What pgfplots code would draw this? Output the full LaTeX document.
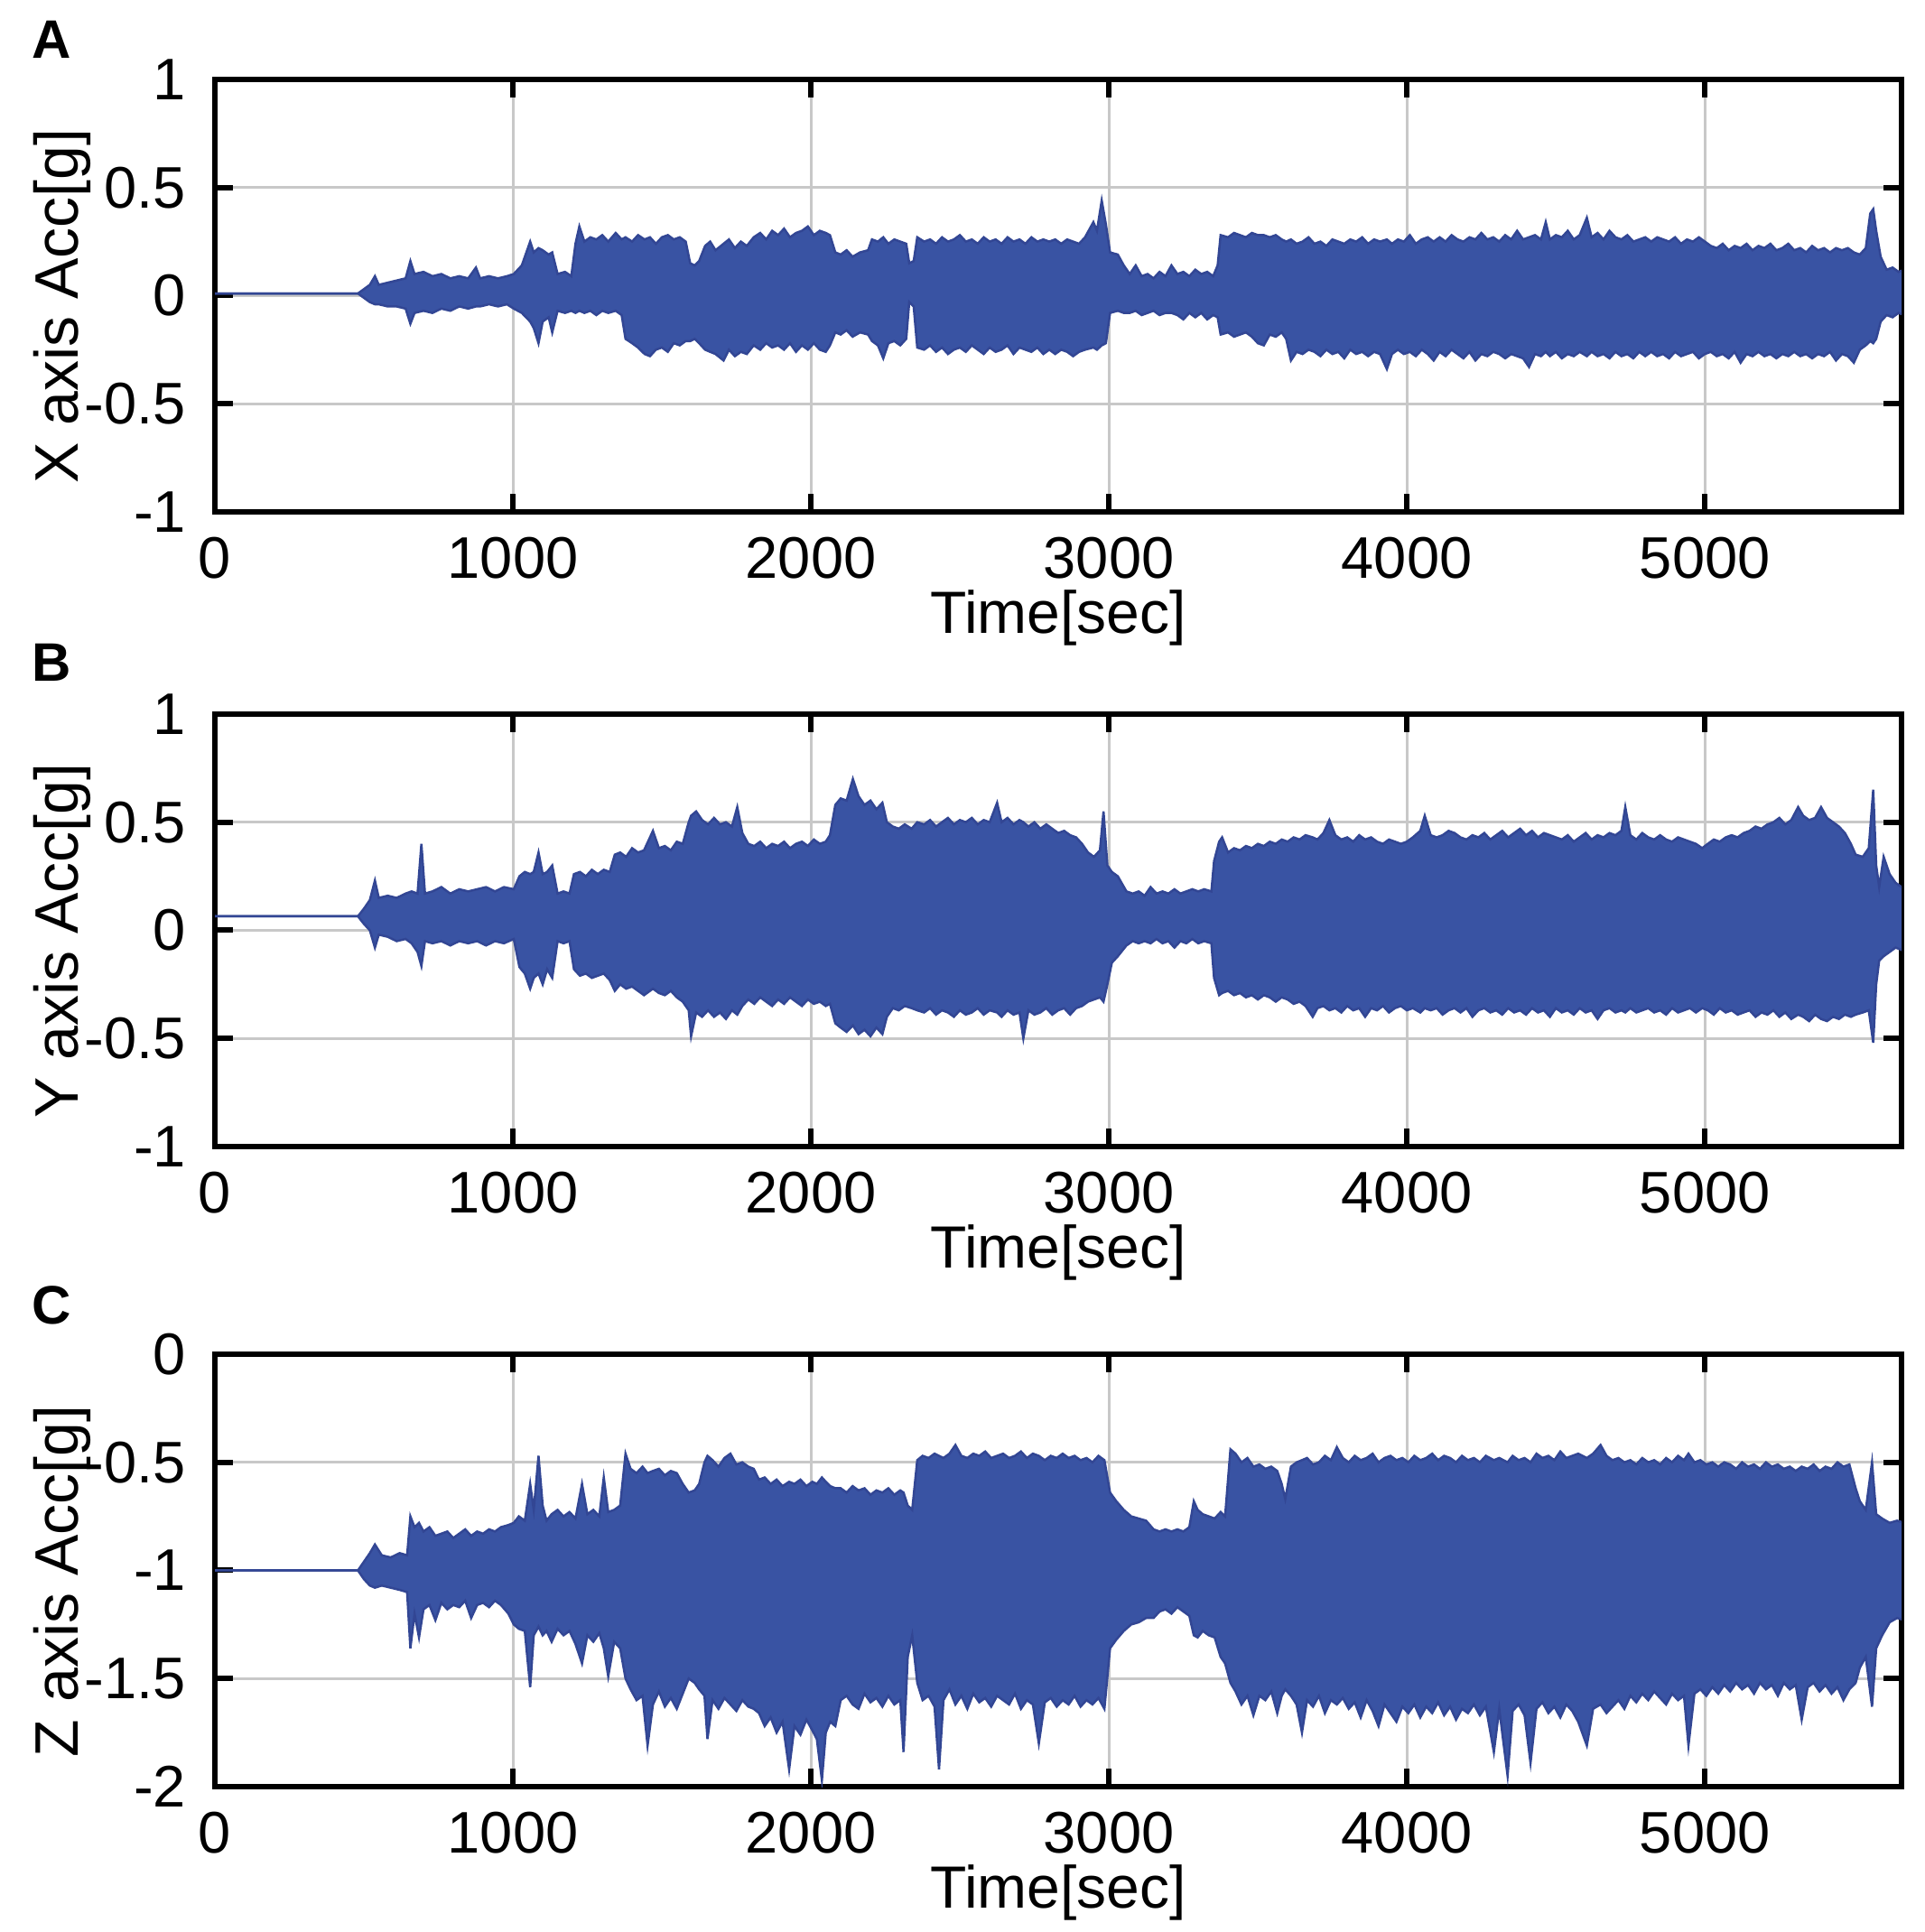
\documentclass[border=0pt]{standalone}
\usepackage{fontspec}
\setmainfont{Liberation Sans}
\usepackage{pgfplots}
\usepackage{pgfplotstable}
\pgfplotsset{compat=1.18}
\usepgfplotslibrary{fillbetween}
\definecolor{sigblue}{RGB}{57,83,163}
\definecolor{sigedge}{RGB}{50,70,148}
\definecolor{gridgray}{RGB}{200,200,200}

\pgfplotstableread{
t hi lo
0 0.01 0.01
480 0.01 0.01
500 0.03 -0.01
520 0.05 -0.03
537 0.09 -0.04
550 0.05 -0.04
580 0.06 -0.05
610 0.07 -0.05
640 0.08 -0.06
656 0.16 -0.13
670 0.10 -0.08
700 0.11 -0.07
730 0.09 -0.08
760 0.10 -0.06
790 0.08 -0.07
820 0.09 -0.05
850 0.08 -0.06
876 0.13 -0.05
890 0.08 -0.05
920 0.09 -0.04
950 0.08 -0.05
980 0.09 -0.04
1003 0.10 -0.06
1030 0.14 -0.08
1058 0.25 -0.12
1070 0.20 -0.15
1086 0.22 -0.22
1100 0.21 -0.12
1120 0.19 -0.10
1132 0.20 -0.17
1150 0.10 -0.07
1175 0.11 -0.08
1196 0.09 -0.07
1210 0.24 -0.08
1223 0.32 -0.07
1240 0.25 -0.08
1260 0.27 -0.07
1280 0.26 -0.09
1300 0.28 -0.07
1320 0.25 -0.08
1345 0.29 -0.07
1365 0.26 -0.09
1378 0.27 -0.20
1400 0.25 -0.22
1420 0.28 -0.24
1442 0.26 -0.27
1460 0.27 -0.28
1480 0.24 -0.25
1500 0.27 -0.24
1520 0.28 -0.26
1540 0.26 -0.22
1560 0.27 -0.23
1580 0.25 -0.21
1595 0.15 -0.21
1610 0.14 -0.20
1625 0.16 -0.22
1645 0.23 -0.25
1662 0.25 -0.26
1680 0.21 -0.27
1707 0.24 -0.30
1725 0.26 -0.25
1745 0.22 -0.28
1765 0.25 -0.26
1785 0.23 -0.27
1808 0.27 -0.23
1830 0.29 -0.25
1850 0.26 -0.22
1870 0.30 -0.24
1890 0.28 -0.23
1910 0.31 -0.25
1930 0.27 -0.22
1950 0.29 -0.26
1970 0.30 -0.23
1990 0.32 -0.25
2010 0.28 -0.22
2030 0.30 -0.25
2050 0.29 -0.26
2064 0.28 -0.23
2082 0.20 -0.17
2100 0.19 -0.18
2120 0.21 -0.16
2140 0.18 -0.19
2165 0.20 -0.17
2192 0.21 -0.18
2205 0.26 -0.21
2225 0.25 -0.23
2243 0.27 -0.29
2260 0.24 -0.22
2280 0.26 -0.21
2300 0.25 -0.23
2320 0.24 -0.20
2330 0.15 -0.03
2345 0.16 -0.05
2357 0.27 -0.24
2380 0.25 -0.25
2400 0.26 -0.23
2420 0.24 -0.26
2440 0.27 -0.24
2460 0.25 -0.27
2480 0.26 -0.25
2500 0.28 -0.24
2520 0.25 -0.26
2540 0.26 -0.23
2560 0.24 -0.25
2580 0.27 -0.27
2600 0.25 -0.24
2620 0.26 -0.26
2640 0.24 -0.25
2660 0.27 -0.23
2680 0.25 -0.27
2700 0.26 -0.24
2720 0.24 -0.25
2740 0.27 -0.26
2760 0.25 -0.24
2780 0.26 -0.27
2800 0.25 -0.25
2820 0.26 -0.27
2840 0.24 -0.25
2860 0.26 -0.26
2880 0.25 -0.28
2900 0.24 -0.26
2920 0.27 -0.25
2948 0.34 -0.24
2960 0.30 -0.25
2976 0.44 -0.23
2990 0.33 -0.22
3004 0.20 -0.08
3030 0.19 -0.07
3050 0.14 -0.08
3070 0.10 -0.08
3090 0.14 -0.07
3110 0.09 -0.09
3130 0.10 -0.08
3150 0.08 -0.07
3170 0.11 -0.09
3190 0.09 -0.08
3210 0.14 -0.08
3230 0.10 -0.09
3250 0.11 -0.11
3270 0.09 -0.08
3290 0.12 -0.10
3310 0.10 -0.08
3330 0.11 -0.11
3350 0.09 -0.09
3365 0.14 -0.10
3375 0.28 -0.18
3400 0.27 -0.17
3420 0.29 -0.19
3440 0.28 -0.18
3460 0.27 -0.17
3480 0.29 -0.19
3500 0.28 -0.22
3520 0.28 -0.23
3540 0.27 -0.18
3560 0.28 -0.19
3580 0.26 -0.17
3595 0.25 -0.20
3611 0.26 -0.30
3630 0.24 -0.26
3650 0.25 -0.27
3670 0.27 -0.25
3690 0.24 -0.26
3710 0.25 -0.28
3730 0.23 -0.25
3750 0.26 -0.27
3770 0.25 -0.26
3790 0.24 -0.29
3810 0.26 -0.25
3830 0.25 -0.27
3850 0.27 -0.26
3870 0.24 -0.28
3890 0.26 -0.26
3910 0.25 -0.27
3933 0.26 -0.34
3950 0.24 -0.27
3970 0.26 -0.25
3990 0.25 -0.27
4010 0.28 -0.26
4030 0.24 -0.28
4050 0.26 -0.25
4070 0.27 -0.27
4090 0.25 -0.30
4110 0.27 -0.26
4130 0.25 -0.28
4150 0.28 -0.25
4170 0.26 -0.27
4190 0.25 -0.29
4210 0.27 -0.26
4230 0.26 -0.30
4250 0.29 -0.27
4270 0.26 -0.28
4290 0.27 -0.26
4310 0.25 -0.27
4330 0.28 -0.29
4350 0.26 -0.27
4370 0.30 -0.28
4390 0.26 -0.29
4410 0.27 -0.33
4430 0.28 -0.27
4450 0.26 -0.28
4466 0.34 -0.26
4480 0.26 -0.28
4500 0.28 -0.26
4520 0.27 -0.29
4540 0.30 -0.27
4560 0.26 -0.28
4580 0.28 -0.26
4604 0.36 -0.28
4620 0.27 -0.26
4640 0.29 -0.28
4660 0.26 -0.27
4680 0.30 -0.29
4700 0.27 -0.26
4720 0.26 -0.28
4740 0.28 -0.27
4760 0.25 -0.29
4780 0.26 -0.26
4800 0.27 -0.28
4820 0.25 -0.26
4840 0.27 -0.28
4860 0.26 -0.27
4880 0.25 -0.29
4900 0.27 -0.26
4920 0.24 -0.28
4940 0.26 -0.27
4960 0.25 -0.26
4980 0.27 -0.29
5000 0.25 -0.27
5020 0.23 -0.26
5040 0.22 -0.28
5060 0.24 -0.27
5080 0.21 -0.29
5100 0.23 -0.26
5120 0.22 -0.31
5140 0.24 -0.27
5160 0.21 -0.28
5180 0.23 -0.26
5200 0.22 -0.28
5220 0.24 -0.27
5240 0.21 -0.29
5260 0.22 -0.27
5280 0.24 -0.28
5300 0.21 -0.26
5320 0.22 -0.28
5340 0.20 -0.27
5360 0.23 -0.29
5380 0.21 -0.27
5400 0.22 -0.28
5420 0.20 -0.26
5440 0.22 -0.30
5460 0.21 -0.27
5480 0.22 -0.28
5500 0.20 -0.31
5520 0.19 -0.25
5540 0.22 -0.23
5555 0.38 -0.21
5565 0.40 -0.22
5575 0.30 -0.20
5590 0.18 -0.12
5610 0.12 -0.09
5630 0.13 -0.10
5650 0.11 -0.08
5670 0.12 -0.09
}\dA

\pgfplotstableread{
t hi lo
0 0.065 0.065
480 0.065 0.065
500 0.10 0.03
520 0.14 0.00
537 0.23 -0.08
550 0.15 -0.02
580 0.16 -0.03
610 0.15 -0.05
640 0.17 -0.04
660 0.18 -0.06
680 0.17 -0.10
693 0.40 -0.165
705 0.17 -0.05
730 0.18 -0.06
760 0.20 -0.05
790 0.17 -0.07
820 0.19 -0.05
850 0.18 -0.06
880 0.19 -0.05
910 0.20 -0.07
940 0.18 -0.05
970 0.20 -0.06
1003 0.19 -0.04
1022 0.25 -0.17
1040 0.27 -0.20
1058 0.26 -0.27
1070 0.27 -0.22
1086 0.36 -0.20
1100 0.26 -0.25
1115 0.27 -0.18
1132 0.30 -0.22
1150 0.17 -0.05
1170 0.18 -0.06
1190 0.17 -0.05
1205 0.26 -0.18
1225 0.27 -0.21
1245 0.25 -0.20
1265 0.28 -0.22
1285 0.26 -0.21
1305 0.28 -0.20
1325 0.27 -0.23
1342 0.35 -0.28
1360 0.36 -0.25
1380 0.34 -0.27
1400 0.38 -0.26
1420 0.36 -0.28
1440 0.37 -0.30
1470 0.46 -0.27
1490 0.38 -0.29
1510 0.39 -0.30
1530 0.37 -0.28
1550 0.41 -0.31
1570 0.40 -0.33
1590 0.50 -0.37
1598 0.53 -0.49
1615 0.55 -0.38
1635 0.51 -0.40
1655 0.49 -0.37
1675 0.52 -0.40
1695 0.49 -0.38
1715 0.50 -0.41
1735 0.48 -0.37
1753 0.57 -0.39
1770 0.45 -0.35
1790 0.40 -0.32
1810 0.39 -0.34
1830 0.41 -0.31
1850 0.38 -0.33
1870 0.40 -0.35
1890 0.39 -0.32
1910 0.41 -0.34
1930 0.38 -0.31
1950 0.40 -0.33
1970 0.41 -0.35
1990 0.39 -0.32
2010 0.42 -0.34
2030 0.40 -0.33
2050 0.41 -0.35
2064 0.44 -0.34
2082 0.58 -0.43
2100 0.61 -0.45
2120 0.60 -0.47
2141 0.70 -0.44
2160 0.62 -0.48
2180 0.58 -0.46
2200 0.60 -0.49
2220 0.56 -0.45
2240 0.59 -0.48
2255 0.50 -0.40
2275 0.48 -0.36
2295 0.47 -0.37
2315 0.49 -0.35
2338 0.47 -0.36
2357 0.50 -0.37
2380 0.49 -0.38
2400 0.51 -0.36
2420 0.48 -0.39
2440 0.50 -0.37
2460 0.52 -0.38
2480 0.49 -0.40
2500 0.51 -0.37
2520 0.50 -0.39
2540 0.52 -0.38
2560 0.49 -0.36
2580 0.51 -0.39
2600 0.50 -0.37
2625 0.59 -0.38
2640 0.50 -0.40
2660 0.52 -0.37
2680 0.49 -0.39
2700 0.51 -0.38
2713 0.50 -0.50
2730 0.48 -0.37
2750 0.50 -0.39
2770 0.47 -0.38
2790 0.49 -0.36
2810 0.47 -0.39
2830 0.45 -0.37
2850 0.46 -0.36
2870 0.44 -0.39
2890 0.43 -0.36
2910 0.40 -0.35
2930 0.36 -0.33
2950 0.34 -0.32
2970 0.37 -0.31
2982 0.55 -0.33
2995 0.30 -0.25
3010 0.27 -0.15
3030 0.25 -0.12
3059 0.18 -0.07
3080 0.17 -0.05
3100 0.18 -0.06
3120 0.16 -0.05
3140 0.20 -0.06
3160 0.17 -0.04
3180 0.18 -0.06
3200 0.17 -0.05
3220 0.19 -0.08
3240 0.17 -0.05
3260 0.18 -0.06
3280 0.19 -0.04
3300 0.18 -0.06
3320 0.19 -0.05
3344 0.18 -0.06
3353 0.32 -0.22
3370 0.41 -0.30
3380 0.43 -0.29
3400 0.36 -0.28
3420 0.38 -0.30
3440 0.37 -0.29
3460 0.39 -0.31
3480 0.38 -0.30
3500 0.40 -0.32
3520 0.39 -0.30
3540 0.41 -0.31
3560 0.40 -0.33
3580 0.42 -0.31
3600 0.41 -0.32
3620 0.43 -0.34
3640 0.42 -0.33
3660 0.44 -0.35
3684 0.43 -0.40
3700 0.42 -0.36
3720 0.45 -0.35
3740 0.51 -0.37
3760 0.44 -0.36
3780 0.42 -0.38
3800 0.43 -0.35
3820 0.41 -0.37
3840 0.44 -0.36
3860 0.42 -0.40
3880 0.43 -0.36
3900 0.41 -0.37
3920 0.40 -0.35
3940 0.42 -0.38
3960 0.41 -0.36
3980 0.40 -0.35
4000 0.41 -0.37
4020 0.43 -0.36
4045 0.46 -0.38
4060 0.53 -0.36
4080 0.44 -0.37
4100 0.43 -0.36
4120 0.44 -0.39
4140 0.46 -0.37
4160 0.45 -0.36
4180 0.43 -0.38
4200 0.42 -0.36
4220 0.44 -0.40
4240 0.43 -0.37
4260 0.45 -0.36
4280 0.42 -0.38
4300 0.44 -0.37
4320 0.46 -0.39
4340 0.43 -0.36
4360 0.45 -0.38
4380 0.47 -0.37
4400 0.44 -0.39
4420 0.46 -0.36
4440 0.43 -0.38
4460 0.45 -0.37
4480 0.44 -0.40
4500 0.43 -0.36
4520 0.42 -0.38
4540 0.44 -0.37
4560 0.41 -0.39
4580 0.43 -0.36
4600 0.45 -0.38
4620 0.42 -0.37
4640 0.44 -0.41
4660 0.43 -0.37
4680 0.45 -0.36
4700 0.44 -0.38
4720 0.46 -0.37
4733 0.57 -0.38
4750 0.44 -0.36
4770 0.42 -0.38
4790 0.45 -0.37
4810 0.43 -0.36
4830 0.42 -0.38
4850 0.44 -0.37
4870 0.42 -0.39
4890 0.41 -0.36
4910 0.43 -0.38
4930 0.42 -0.37
4950 0.41 -0.36
4970 0.40 -0.38
4991 0.38 -0.36
5010 0.40 -0.37
5030 0.42 -0.39
5050 0.41 -0.36
5070 0.43 -0.38
5090 0.44 -0.37
5110 0.43 -0.39
5130 0.45 -0.38
5150 0.46 -0.37
5170 0.48 -0.40
5190 0.47 -0.38
5210 0.49 -0.39
5230 0.50 -0.37
5250 0.52 -0.40
5270 0.49 -0.38
5290 0.51 -0.41
5313 0.57 -0.39
5330 0.53 -0.40
5350 0.51 -0.42
5370 0.52 -0.39
5390 0.57 -0.41
5410 0.52 -0.42
5430 0.50 -0.40
5450 0.48 -0.41
5470 0.45 -0.39
5490 0.40 -0.40
5506 0.35 -0.39
5530 0.34 -0.38
5550 0.38 -0.37
5565 0.65 -0.52
5575 0.30 -0.25
5585 0.20 -0.14
5600 0.34 -0.12
5620 0.26 -0.10
5640 0.22 -0.08
5660 0.20 -0.09
5670 0.21 -0.10
}\dB

\pgfplotstableread{
t hi lo
0 -1.0 -1.0
480 -1.0 -1.0
500 -0.96 -1.04
520 -0.92 -1.07
537 -0.88 -1.08
560 -0.93 -1.07
590 -0.94 -1.08
620 -0.92 -1.09
645 -0.93 -1.10
656 -0.75 -1.36
670 -0.80 -1.20
685 -0.78 -1.31
700 -0.82 -1.18
720 -0.80 -1.16
740 -0.84 -1.23
760 -0.83 -1.15
780 -0.82 -1.18
800 -0.85 -1.16
820 -0.83 -1.17
840 -0.81 -1.14
860 -0.84 -1.22
880 -0.82 -1.16
900 -0.83 -1.15
920 -0.81 -1.17
940 -0.82 -1.14
960 -0.80 -1.16
985 -0.79 -1.20
1003 -0.78 -1.25
1020 -0.75 -1.27
1040 -0.77 -1.28
1058 -0.60 -1.54
1070 -0.72 -1.30
1086 -0.47 -1.26
1100 -0.70 -1.30
1113 -0.77 -1.28
1130 -0.74 -1.33
1150 -0.72 -1.27
1170 -0.75 -1.30
1190 -0.73 -1.28
1210 -0.76 -1.34
1232 -0.60 -1.43
1250 -0.74 -1.30
1270 -0.72 -1.33
1290 -0.75 -1.29
1305 -0.57 -1.36
1320 -0.73 -1.49
1340 -0.72 -1.33
1360 -0.70 -1.36
1378 -0.46 -1.50
1395 -0.53 -1.55
1415 -0.55 -1.60
1435 -0.52 -1.58
1452 -0.55 -1.81
1470 -0.54 -1.62
1490 -0.53 -1.56
1510 -0.56 -1.63
1530 -0.54 -1.59
1550 -0.55 -1.64
1570 -0.60 -1.57
1590 -0.64 -1.50
1610 -0.63 -1.52
1625 -0.60 -1.55
1643 -0.50 -1.58
1653 -0.47 -1.78
1670 -0.49 -1.60
1690 -0.52 -1.64
1710 -0.48 -1.59
1730 -0.46 -1.62
1750 -0.51 -1.65
1770 -0.50 -1.60
1790 -0.52 -1.63
1808 -0.53 -1.64
1826 -0.58 -1.66
1845 -0.57 -1.72
1865 -0.60 -1.68
1885 -0.58 -1.75
1905 -0.61 -1.70
1927 -0.59 -1.92
1945 -0.60 -1.72
1965 -0.58 -1.76
1985 -0.61 -1.69
2005 -0.59 -1.74
2020 -0.60 -1.78
2037 -0.57 -1.97
2050 -0.59 -1.75
2065 -0.61 -1.70
2082 -0.62 -1.72
2100 -0.62 -1.60
2120 -0.64 -1.58
2140 -0.61 -1.62
2160 -0.63 -1.64
2180 -0.62 -1.57
2200 -0.65 -1.61
2220 -0.63 -1.59
2240 -0.64 -1.63
2260 -0.62 -1.58
2280 -0.65 -1.62
2300 -0.63 -1.60
2311 -0.64 -1.84
2325 -0.70 -1.40
2340 -0.72 -1.30
2357 -0.49 -1.52
2375 -0.47 -1.60
2395 -0.48 -1.58
2415 -0.46 -1.63
2430 -0.47 -1.92
2445 -0.48 -1.60
2465 -0.46 -1.55
2485 -0.42 -1.62
2505 -0.47 -1.58
2525 -0.48 -1.64
2545 -0.46 -1.57
2565 -0.47 -1.61
2585 -0.45 -1.59
2605 -0.48 -1.63
2625 -0.47 -1.58
2645 -0.46 -1.60
2665 -0.48 -1.62
2685 -0.47 -1.57
2705 -0.45 -1.64
2725 -0.48 -1.60
2745 -0.46 -1.62
2765 -0.47 -1.80
2785 -0.49 -1.61
2805 -0.47 -1.59
2825 -0.48 -1.63
2845 -0.46 -1.60
2865 -0.48 -1.62
2885 -0.47 -1.58
2905 -0.49 -1.63
2925 -0.48 -1.60
2945 -0.50 -1.62
2965 -0.47 -1.59
2985 -0.49 -1.64
3004 -0.64 -1.36
3025 -0.68 -1.32
3050 -0.72 -1.28
3075 -0.75 -1.25
3100 -0.76 -1.24
3125 -0.77 -1.22
3150 -0.81 -1.22
3170 -0.82 -1.19
3190 -0.81 -1.18
3210 -0.82 -1.20
3230 -0.81 -1.17
3250 -0.82 -1.19
3270 -0.80 -1.21
3285 -0.68 -1.30
3298 -0.72 -1.31
3315 -0.74 -1.28
3335 -0.75 -1.30
3355 -0.76 -1.31
3375 -0.73 -1.40
3390 -0.75 -1.43
3408 -0.44 -1.52
3425 -0.46 -1.56
3445 -0.50 -1.62
3465 -0.48 -1.58
3485 -0.52 -1.67
3505 -0.51 -1.58
3525 -0.53 -1.60
3545 -0.52 -1.56
3565 -0.54 -1.66
3580 -0.60 -1.58
3592 -0.67 -1.55
3611 -0.52 -1.58
3630 -0.50 -1.62
3648 -0.49 -1.75
3665 -0.48 -1.60
3685 -0.51 -1.63
3705 -0.50 -1.58
3725 -0.47 -1.66
3745 -0.49 -1.60
3765 -0.43 -1.62
3785 -0.48 -1.59
3805 -0.50 -1.64
3825 -0.47 -1.61
3845 -0.49 -1.68
3865 -0.48 -1.60
3885 -0.46 -1.65
3905 -0.50 -1.72
3925 -0.48 -1.62
3945 -0.47 -1.66
3965 -0.49 -1.70
3985 -0.48 -1.63
4005 -0.50 -1.66
4025 -0.47 -1.62
4045 -0.49 -1.68
4065 -0.48 -1.63
4085 -0.46 -1.66
4105 -0.49 -1.61
4125 -0.47 -1.67
4145 -0.48 -1.63
4165 -0.50 -1.69
4185 -0.47 -1.64
4205 -0.49 -1.66
4225 -0.48 -1.62
4245 -0.50 -1.67
4265 -0.47 -1.63
4292 -0.49 -1.84
4310 -0.48 -1.64
4338 -0.50 -1.95
4355 -0.47 -1.65
4375 -0.49 -1.62
4395 -0.48 -1.67
4415 -0.50 -1.89
4435 -0.46 -1.64
4455 -0.48 -1.61
4475 -0.47 -1.66
4495 -0.49 -1.63
4515 -0.45 -1.68
4535 -0.48 -1.62
4555 -0.47 -1.65
4575 -0.46 -1.70
4604 -0.48 -1.81
4625 -0.46 -1.64
4650 -0.42 -1.62
4670 -0.47 -1.66
4690 -0.49 -1.63
4710 -0.48 -1.60
4730 -0.50 -1.64
4750 -0.49 -1.58
4770 -0.51 -1.61
4790 -0.48 -1.57
4810 -0.50 -1.60
4830 -0.49 -1.56
4850 -0.51 -1.59
4870 -0.48 -1.62
4890 -0.50 -1.57
4910 -0.47 -1.60
4930 -0.49 -1.58
4945 -0.46 -1.81
4965 -0.50 -1.57
4985 -0.49 -1.55
5005 -0.51 -1.58
5025 -0.50 -1.54
5045 -0.52 -1.57
5065 -0.50 -1.53
5085 -0.51 -1.56
5105 -0.53 -1.52
5125 -0.50 -1.55
5145 -0.52 -1.53
5165 -0.51 -1.57
5185 -0.53 -1.52
5205 -0.50 -1.55
5225 -0.52 -1.53
5245 -0.51 -1.58
5265 -0.53 -1.52
5285 -0.52 -1.55
5305 -0.54 -1.53
5325 -0.52 -1.69
5345 -0.53 -1.54
5365 -0.51 -1.52
5385 -0.54 -1.56
5405 -0.52 -1.53
5425 -0.53 -1.57
5445 -0.50 -1.54
5465 -0.52 -1.60
5485 -0.51 -1.55
5506 -0.62 -1.52
5520 -0.68 -1.45
5540 -0.72 -1.40
5561 -0.50 -1.63
5575 -0.74 -1.36
5595 -0.76 -1.30
5620 -0.78 -1.24
5645 -0.77 -1.22
5670 -0.78 -1.23
}\dC

\pgfplotsset{panel/.style={
  scale only axis, width=373.6pt, height=95.8pt,
  anchor=north west,
  xmin=0, xmax=5660,
  xtick={0,1000,2000,3000,4000,5000},
  xticklabels={0,1000,2000,3000,4000,5000},
  grid=major,
  major grid style={gridgray, line width=0.6pt},
  axis line style={black, line width=1.2pt},
  major tick length=4pt,
  tick style={black, line width=1.2pt},
  tick align=inside,
  /pgf/number format/assume math mode=true,
  ticklabel style={font=\fontsize{13}{15}\selectfont},
  xticklabel style={anchor=north, inner sep=0pt, yshift=-5.4pt},
  yticklabel style={anchor=east, inner sep=0pt, xshift=-6.2pt},
  label style={font=\fontsize{13.2}{15}\selectfont},
  xlabel={Time[sec]},
  xlabel style={at={(axis description cs:0.5,-0.178)}, anchor=north, inner sep=0pt},
  ylabel style={font=\fontsize{13.6}{15}\selectfont, at={(axis description cs:-0.073,0.475)}, anchor=south, inner sep=0pt},
}}

\begin{document}
\begin{tikzpicture}
\path (0,0) rectangle (426.2pt,428pt);

\begin{axis}[panel, at={(47.6pt,410.4pt)},
  ymin=-1, ymax=1, ytick={-1,-0.5,0,0.5,1}, yticklabels={-1,-0.5,0,0.5,1},
  ylabel={X axis Acc[g]}]
\addplot[sigedge, line width=0.5pt, name path=hiA] table[x=t,y=hi]{\dA};
\addplot[sigedge, line width=0.5pt, name path=loA] table[x=t,y=lo]{\dA};
\addplot[fill=sigblue, draw=none] fill between[of=hiA and loA];
\end{axis}

\begin{axis}[panel, at={(47.6pt,269.8pt)},
  ymin=-1, ymax=1, ytick={-1,-0.5,0,0.5,1}, yticklabels={-1,-0.5,0,0.5,1},
  ylabel={Y axis Acc[g]}]
\addplot[sigedge, line width=0.5pt, name path=hiB] table[x=t,y=hi]{\dB};
\addplot[sigedge, line width=0.5pt, name path=loB] table[x=t,y=lo]{\dB};
\addplot[fill=sigblue, draw=none] fill between[of=hiB and loB];
\end{axis}

\begin{axis}[panel, at={(47.6pt,128pt)},
  ymin=-2, ymax=0, ytick={-2,-1.5,-1,-0.5,0}, yticklabels={-2,-1.5,-1,-0.5,0},
  ylabel={Z axis Acc[g]}]
\addplot[sigedge, line width=0.5pt, name path=hiC] table[x=t,y=hi]{\dC};
\addplot[sigedge, line width=0.5pt, name path=loC] table[x=t,y=lo]{\dC};
\addplot[fill=sigblue, draw=none] fill between[of=hiC and loC];
\end{axis}

\node[anchor=base west, inner sep=0pt, font=\bfseries\fontsize{12}{14}\selectfont] at (7pt,415pt) {A};
\node[anchor=base west, inner sep=0pt, font=\bfseries\fontsize{12}{14}\selectfont] at (7pt,277pt) {B};
\node[anchor=base west, inner sep=0pt, font=\bfseries\fontsize{12}{14}\selectfont] at (7pt,134.6pt) {C};
\end{tikzpicture}
\end{document}
